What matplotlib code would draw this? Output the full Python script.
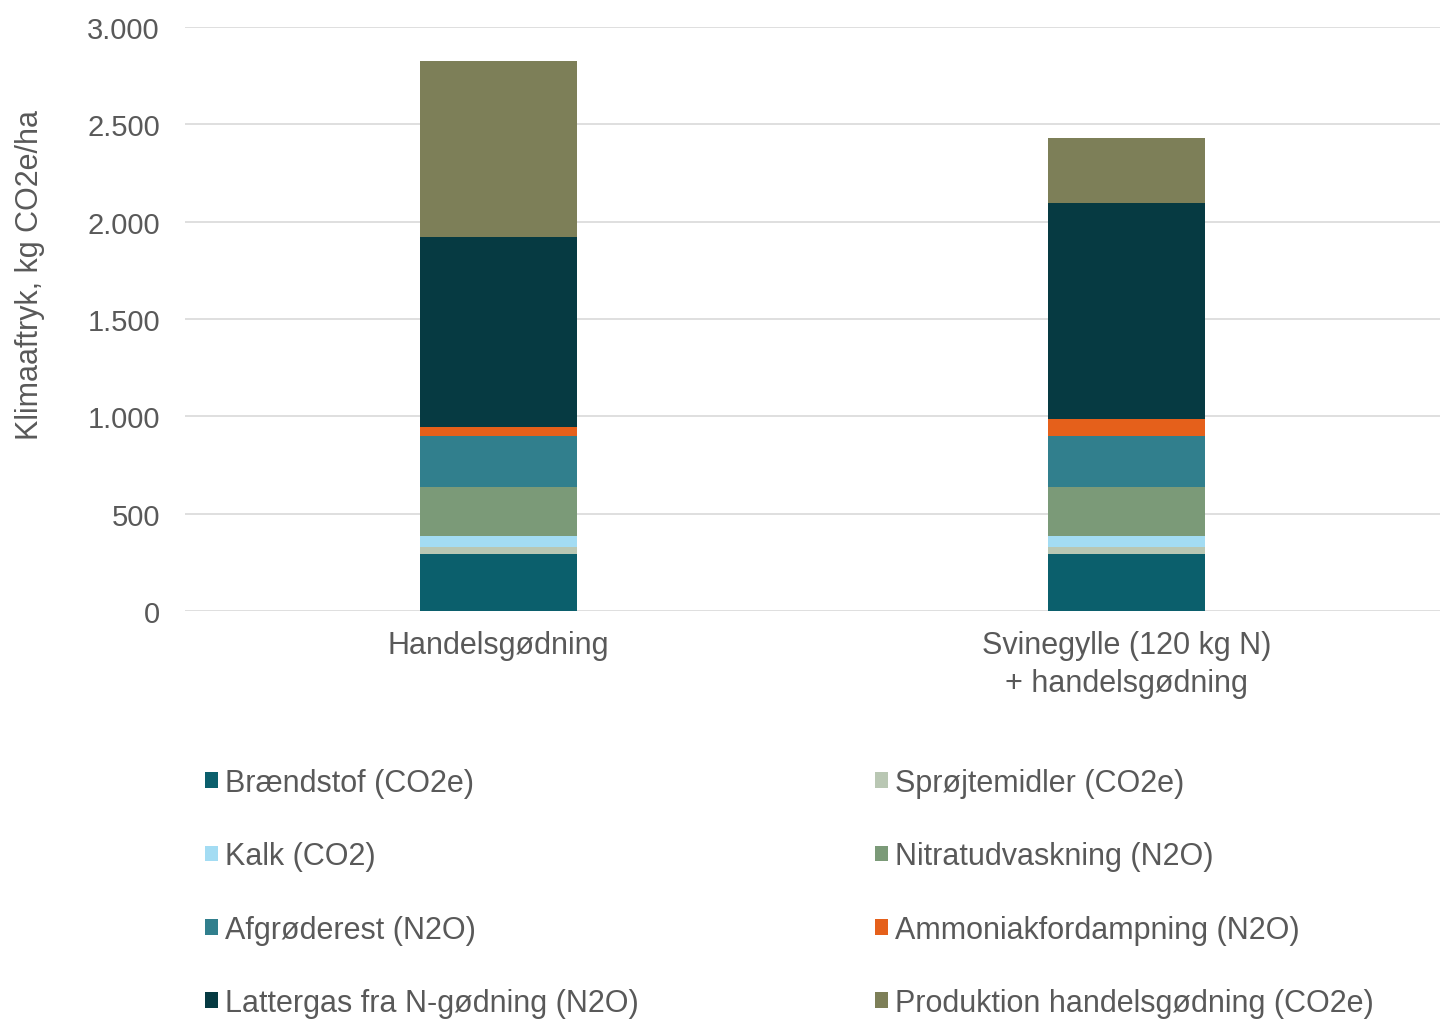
import matplotlib
matplotlib.use("Agg")
import matplotlib.pyplot as plt
from matplotlib.ticker import FuncFormatter
import numpy as np

plt.rcParams['font.family'] = ['Liberation Sans', 'DejaVu Sans']

categories = ["Handelsgødning", "Svinegylle (120 kg N)\n+ handelsgødning"]
series_names = ["Brændstof (CO2e)", "Sprøjtemidler (CO2e)", "Kalk (CO2)",
                "Nitratudvaskning (N2O)", "Afgrøderest (N2O)",
                "Ammoniakfordampning (N2O)", "Lattergas fra N-gødning (N2O)",
                "Produktion handelsgødning (CO2e)"]
braendstof = [293, 293]
sproejtemidler = [35, 35]
kalk = [57, 57]
nitratudvaskning = [252, 252]
afgroederest = [262, 262]
ammoniak = [46, 87]
lattergas = [976, 1110]
produktion = [904, 333]
yticks = [0, 500, 1000, 1500, 2000, 2500, 3000]

series = [braendstof, sproejtemidler, kalk, nitratudvaskning, afgroederest,
          ammoniak, lattergas, produktion]
colors = ["#0b5f6c", "#b9c7b3", "#a3dcf3", "#7b9a78", "#317f8d",
          "#e5601b", "#063a42", "#7d7f58"]
textcol = '#595959'

fig = plt.figure(figsize=(14.42, 10.2), dpi=100)
ax = fig.add_axes([185/1442, 1-612/1020, 1255/1442, 584/1020])

x = np.arange(len(categories))
bottom = np.zeros(len(categories))
handles = []
for name, vals, c in zip(series_names, series, colors):
    v = np.array(vals, dtype=float)
    h = ax.bar(x, v, bottom=bottom, width=0.25, color=c, label=name, zorder=3)
    handles.append(h)
    bottom += v

ax.set_xlim(-0.5, 1.5)
ax.set_ylim(0, 3000)
ax.set_yticks(yticks)
ax.yaxis.set_major_formatter(FuncFormatter(lambda v, p: f"{int(v):,}".replace(",", ".")))
ax.grid(axis='y', color='#d9d9d9', linewidth=1.2, zorder=0)
for s in ax.spines.values():
    s.set_visible(False)
ax.tick_params(axis='y', length=0, pad=18, labelsize=21, labelcolor=textcol)
ax.tick_params(axis='x', length=0, pad=14, labelsize=22, labelcolor=textcol)
ax.set_xticks(x)
ax.set_xticklabels(categories, linespacing=1.35)

fig.text(30/1442, 1-275/1020, "Klimaaftryk, kg CO2e/ha", rotation=90,
         ha='center', va='center', fontsize=22, color=textcol)

# legend in Excel row-major order: left column = even indices, right = odd
common = dict(loc='upper left', frameon=False, fontsize=22, handlelength=0.42,
              handleheight=0.42, handletextpad=0.25, labelspacing=1.42,
              labelcolor=textcol, borderaxespad=0, borderpad=0)
left_idx = [0, 2, 4, 6]
right_idx = [1, 3, 5, 7]
fig.legend([handles[i] for i in left_idx], [series_names[i] for i in left_idx],
           bbox_to_anchor=(205/1442, 1-769/1020), **common)
fig.legend([handles[i] for i in right_idx], [series_names[i] for i in right_idx],
           bbox_to_anchor=(875/1442, 1-769/1020), **common)

fig.savefig("out.png", dpi=100, facecolor='white')
